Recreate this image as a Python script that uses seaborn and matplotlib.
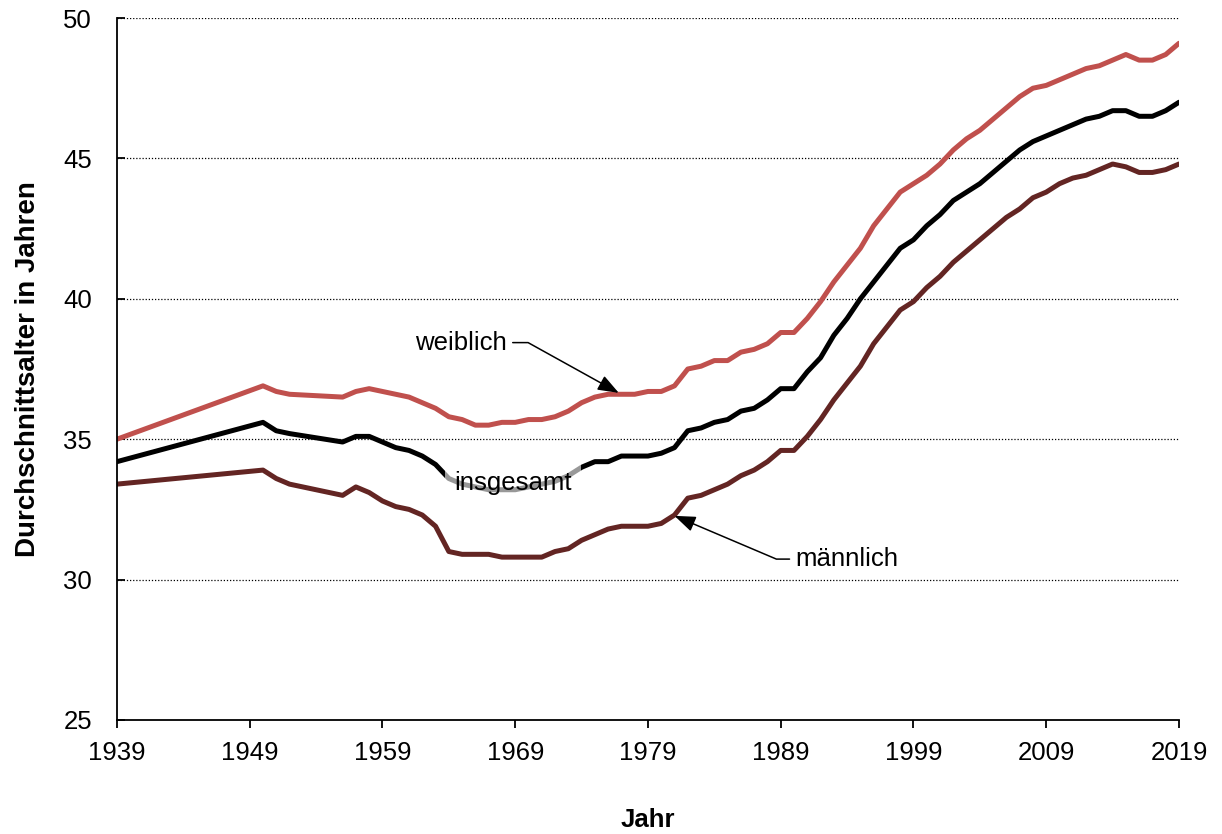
import numpy as np
import pandas as pd
import matplotlib
matplotlib.use("Agg")
import matplotlib.pyplot as plt
import seaborn as sns

# Durchschnittsalter der Bevoelkerung, 1939-2019
years = [1939, 1950, 1951, 1952] + list(range(1956, 2020))

weiblich = [35.0, 36.9, 36.7, 36.6,
            36.5, 36.7, 36.8, 36.7, 36.6, 36.5, 36.3, 36.1, 35.8, 35.7,   # 1956-1965
            35.5, 35.5, 35.6, 35.6, 35.7, 35.7, 35.8, 36.0, 36.3, 36.5,   # 1966-1975
            36.6, 36.6, 36.6, 36.7, 36.7, 36.9, 37.5, 37.6, 37.8, 37.8,   # 1976-1985
            38.1, 38.2, 38.4, 38.8, 38.8, 39.3, 39.9, 40.6, 41.2, 41.8,   # 1986-1995
            42.6, 43.2, 43.8, 44.1, 44.4, 44.8, 45.3, 45.7, 46.0, 46.4,   # 1996-2005
            46.8, 47.2, 47.5, 47.6, 47.8, 48.0, 48.2, 48.3, 48.5, 48.7,   # 2006-2015
            48.5, 48.5, 48.7, 49.1]                                       # 2016-2019

insgesamt = [34.2, 35.6, 35.3, 35.2,
             34.9, 35.1, 35.1, 34.9, 34.7, 34.6, 34.4, 34.1, 33.6, 33.4,
             33.3, 33.2, 33.2, 33.2, 33.3, 33.4, 33.5, 33.7, 34.0, 34.2,
             34.2, 34.4, 34.4, 34.4, 34.5, 34.7, 35.3, 35.4, 35.6, 35.7,
             36.0, 36.1, 36.4, 36.8, 36.8, 37.4, 37.9, 38.7, 39.3, 40.0,
             40.6, 41.2, 41.8, 42.1, 42.6, 43.0, 43.5, 43.8, 44.1, 44.5,
             44.9, 45.3, 45.6, 45.8, 46.0, 46.2, 46.4, 46.5, 46.7, 46.7,
             46.5, 46.5, 46.7, 47.0]

maennlich = [33.4, 33.9, 33.6, 33.4,
             33.0, 33.3, 33.1, 32.8, 32.6, 32.5, 32.3, 31.9, 31.0, 30.9,
             30.9, 30.9, 30.8, 30.8, 30.8, 30.8, 31.0, 31.1, 31.4, 31.6,
             31.8, 31.9, 31.9, 31.9, 32.0, 32.3, 32.9, 33.0, 33.2, 33.4,
             33.7, 33.9, 34.2, 34.6, 34.6, 35.1, 35.7, 36.4, 37.0, 37.6,
             38.4, 39.0, 39.6, 39.9, 40.4, 40.8, 41.3, 41.7, 42.1, 42.5,
             42.9, 43.2, 43.6, 43.8, 44.1, 44.3, 44.4, 44.6, 44.8, 44.7,
             44.5, 44.5, 44.6, 44.8]

series = ["weiblich", "insgesamt", "männlich"]
colors = {"weiblich": "#C0504D", "insgesamt": "#000000", "männlich": "#632523"}

xticks = list(range(1939, 2020, 10))
yticks = [25, 30, 35, 40, 45, 50]

df = pd.DataFrame({
    "Jahr": years * 3,
    "Alter": weiblich + insgesamt + maennlich,
    "Gruppe": ["weiblich"] * len(years) + ["insgesamt"] * len(years) + ["männlich"] * len(years),
})

sns.set_theme(style="white")
plt.rcParams["font.family"] = ["Liberation Sans", "DejaVu Sans"]
plt.rcParams["text.color"] = "black"
plt.rcParams["axes.labelcolor"] = "black"

fig = plt.figure(figsize=(12.22, 8.34), dpi=100)
ax = fig.add_axes([0.0957, 0.1367, 0.8691, 0.8417])

sns.lineplot(data=df, x="Jahr", y="Alter", hue="Gruppe", hue_order=series,
             palette=colors, linewidth=3.6, legend=False, ax=ax)

ax.set_xlim(1939, 2019)
ax.set_ylim(25, 50)
ax.set_xticks(xticks)
ax.set_yticks(yticks)

# gepunktete Gitterlinien
for yv in yticks[1:]:
    ax.axhline(yv, color="black", linewidth=0.9, linestyle=(0, (1, 1.5)), zorder=0)

for side in ["top", "right"]:
    ax.spines[side].set_visible(False)
for side in ["left", "bottom"]:
    ax.spines[side].set_color("black")
    ax.spines[side].set_linewidth(1.3)

ax.tick_params(axis="y", direction="in", length=6, width=1.3, pad=18, labelsize=18.5,
               colors="black", left=True)
ax.tick_params(axis="x", direction="out", length=6, width=1.3, pad=9, labelsize=18.5,
               colors="black", bottom=True)

ax.set_xlabel("Jahr", fontsize=18.5, fontweight="bold", labelpad=31, color="black")
ax.set_ylabel("Durchschnittsalter in Jahren", fontsize=20, fontweight="bold", labelpad=16,
              color="black")

# Beschriftungen mit Pfeilen
arrow_kw = dict(arrowstyle="-|>,head_length=0.8,head_width=0.3", color="black",
                lw=1.1, mutation_scale=16, shrinkB=0)
ax.annotate("weiblich", xy=(1976.8, 36.65), xytext=(1964.9, 38.44),
            fontsize=18.5, ha="center", va="center", color="black",
            arrowprops=dict(connectionstyle="angle,angleA=0,angleB=-29,rad=0", **arrow_kw))
ax.annotate("männlich", xy=(1981.0, 32.27), xytext=(1994.0, 30.73),
            fontsize=18.5, ha="center", va="center", color="black",
            arrowprops=dict(connectionstyle="angle,angleA=0,angleB=-23,rad=0", **arrow_kw))
ax.text(1968.83, 33.44, "insgesamt", fontsize=18.5, ha="center", va="center", zorder=5,
        color="black",
        bbox=dict(boxstyle="square,pad=0.35", facecolor="white", edgecolor="none", alpha=0.6))

fig.savefig("out.png", dpi=100)
